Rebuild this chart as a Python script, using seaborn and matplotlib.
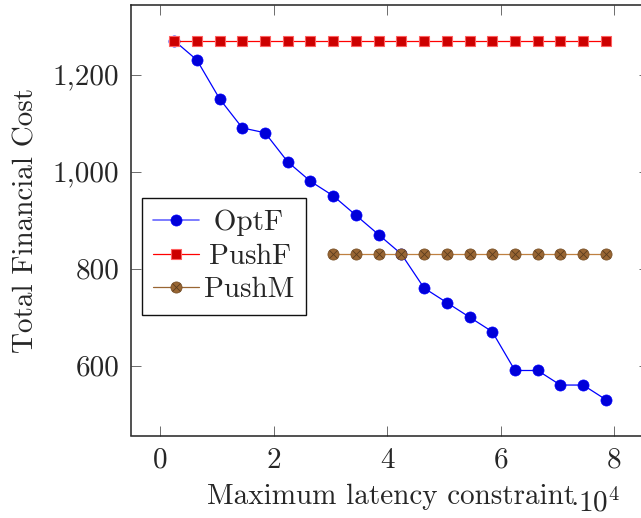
import matplotlib
matplotlib.use("Agg")
import matplotlib.pyplot as plt
import seaborn as sns
from matplotlib.ticker import FixedLocator, FuncFormatter
from matplotlib.lines import Line2D

# Maximum latency constraint (in units of 10^4)
latency = [0.25, 0.65, 1.05, 1.45, 1.85, 2.25, 2.65, 3.05, 3.45, 3.85,
           4.25, 4.65, 5.05, 5.45, 5.85, 6.25, 6.65, 7.05, 7.45, 7.85]
optf_cost = [1270, 1230, 1150, 1090, 1080, 1020, 980, 950, 910, 870,
             830, 760, 730, 700, 670, 590, 590, 560, 560, 530]
pushf_cost = [1270, 1270, 1270, 1270, 1270, 1270, 1270, 1270, 1270, 1270,
              1270, 1270, 1270, 1270, 1270, 1270, 1270, 1270, 1270, 1270]
pushm_latency = [3.05, 3.45, 3.85, 4.25, 4.65, 5.05, 5.45, 5.85, 6.25,
                 6.65, 7.05, 7.45, 7.85]
pushm_cost = [830, 830, 830, 830, 830, 830, 830, 830, 830, 830, 830, 830, 830]

x_ticks = [0, 2, 4, 6, 8]
y_ticks = [600, 800, 1000, 1200]
series_names = ["OptF", "PushF", "PushM"]

sns.set_style("ticks")
FS = 21
plt.rcParams.update({
    "font.family": ["cmr10", "DejaVu Serif"],
    "mathtext.fontset": "cm",
    "axes.formatter.use_mathtext": True,
    "font.size": FS,
})

W, H = 641, 518
fig = plt.figure(figsize=(W / 100, H / 100), dpi=100)
left, right, top, bottom = 131, 649, 4.7, 435.5
ax = fig.add_axes([left / W, 1 - bottom / H, (right - left) / W, (bottom - top) / H])

ms = 8.0
sns.lineplot(x=latency, y=optf_cost, ax=ax, color="#0000ff", linewidth=0.9,
             marker="o", markersize=ms, markerfacecolor="#0000d9",
             markeredgecolor="#0000ff", markeredgewidth=0.5)
sns.lineplot(x=latency, y=pushf_cost, ax=ax, color="#ff0000", linewidth=0.9,
             marker="s", markersize=ms * 0.95, markerfacecolor="#cc0000",
             markeredgecolor="#ff6060", markeredgewidth=0.8)
sns.lineplot(x=pushm_latency, y=pushm_cost, ax=ax, color="#bf8040", linewidth=0.9,
             marker="o", markersize=ms, markerfacecolor="#996633",
             markeredgecolor="#7a5229", markeredgewidth=0.6)
ax.plot(pushm_latency, pushm_cost, linestyle="none", marker="x",
        markersize=ms * 0.68, markeredgecolor="#5a3c1e", markeredgewidth=0.6)

ax.set_xlim(-0.51, 8.61)
ax.set_ylim(456, 1344)
ax.xaxis.set_major_locator(FixedLocator(x_ticks))
ax.yaxis.set_major_locator(FixedLocator(y_ticks))
ax.xaxis.set_major_formatter(FuncFormatter(lambda v, p: f"{v:g}"))
ax.yaxis.set_major_formatter(FuncFormatter(lambda v, p: f"{int(v):,}"))
ax.tick_params(direction="in", length=7, width=0.6, color="#555555",
               top=True, right=True, labelsize=FS, pad=8.5)
for s in ax.spines.values():
    s.set_visible(True)
    s.set_linewidth(1.1)
    s.set_color("#222222")

ax.set_xlabel("")
ax.set_ylabel("Total Financial Cost", fontsize=FS)
ax.yaxis.set_label_coords((40 - left) / (right - left), 0.5)

fig.text(207 / W, 1 - 504 / H, "Maximum latency constraint", fontsize=FS,
         ha="left", va="baseline")
fig.text(570 / W, 1 - 512 / H, r"$\cdot 10^{4}$", fontsize=FS,
         ha="left", va="baseline")

# legend with combined marker for PushM; labels centred in their column
handles = [
    Line2D([], [], color="#6666ff", linewidth=1.2, marker="o", markersize=ms,
           markerfacecolor="#0000d9", markeredgecolor="#0000ff", markeredgewidth=0.5),
    Line2D([], [], color="#ff0000", linewidth=0.9, marker="s", markersize=ms * 0.95,
           markerfacecolor="#cc0000", markeredgecolor="#ff6060", markeredgewidth=0.8),
    (Line2D([], [], color="#996633", linewidth=0.9, marker="o", markersize=ms,
            markerfacecolor="#996633", markeredgecolor="#7a5229", markeredgewidth=0.6),
     Line2D([], [], linestyle="none", marker="x", markersize=ms * 0.68,
            markeredgecolor="#5a3c1e", markeredgewidth=0.6)),
]
labels = [" " + series_names[0], r"$\,$" + series_names[1], series_names[2]]
leg = ax.legend(handles, labels, loc="upper left",
                bbox_to_anchor=((141.7 - left) / (right - left),
                                (bottom - 198.3) / (bottom - top)),
                frameon=True, fancybox=False, edgecolor="#111111",
                framealpha=1, fontsize=FS, handlelength=1.55, handletextpad=0.2,
                borderpad=0.4, labelspacing=0.24, borderaxespad=0)
leg.get_frame().set_linewidth(1.0)

fig.savefig("out.png", dpi=100)
